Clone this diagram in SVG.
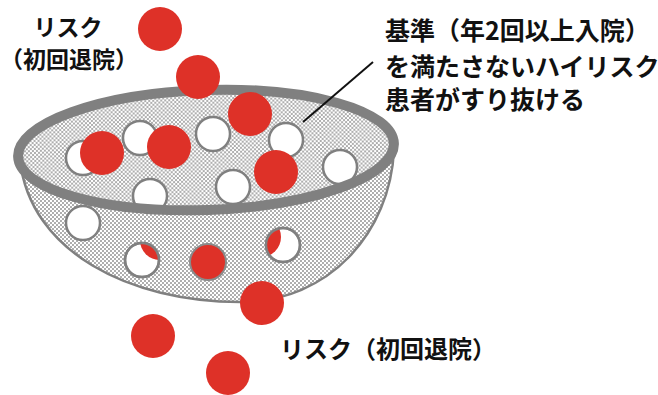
<svg xmlns="http://www.w3.org/2000/svg" width="658" height="395" viewBox="0 0 658 395">
  <defs>
    <pattern id="mesh" width="4" height="4" patternUnits="userSpaceOnUse">
      <rect width="4" height="4" fill="#ffffff"/>
      <circle cx="1" cy="1" r="0.95" fill="#8c8c8c"/>
      <circle cx="3" cy="3" r="0.95" fill="#8c8c8c"/>
    </pattern>
    <clipPath id="hole1"><circle cx="142" cy="260" r="17"/></clipPath>
    <clipPath id="hole2"><circle cx="283" cy="245" r="17"/></clipPath>
  </defs>
  <style>
    .red { fill: #de3128; }
    .white { fill: #ffffff; stroke: #808080; stroke-width: 2.5; }
    .ring { fill: none; stroke: #808080; stroke-width: 2.5; }
    .label { font-family: "Noto Sans CJK JP", "Noto Sans", sans-serif; font-weight: 700; font-size: 24px; fill: #111111; }
    .small { font-size: 23px; }
    .note { font-size: 25px; }
  </style>

  <!-- sieve body and bowl interior -->
  <g id="sieve">
    <path d="M 20 160 C 30 252, 130 302, 240 302 C 330 302, 390 232, 394 150 Z" fill="url(#mesh)" stroke="#808080" stroke-width="2.5"/>
    <ellipse cx="206" cy="150" rx="188" ry="60" transform="rotate(-2 206 150)" fill="url(#mesh)"/>
  </g>

  <!-- balls seen through the mesh below the rim -->
  <g id="holes">
    <circle class="white" cx="83" cy="223" r="17"/>
    <circle class="white" cx="142" cy="260" r="17"/>
    <circle class="red" cx="160" cy="240" r="20" clip-path="url(#hole1)"/>
    <circle class="ring" cx="142" cy="260" r="17"/>
    <circle class="white" cx="283" cy="245" r="17"/>
    <circle class="red" cx="261" cy="237" r="20" clip-path="url(#hole2)"/>
    <circle class="ring" cx="283" cy="245" r="17"/>
    <circle class="red" cx="208" cy="262" r="18" stroke="#8a8a8a" stroke-width="2"/>
  </g>

  <!-- white balls caught inside the bowl -->
  <g id="caught">
    <circle class="white" cx="83" cy="158" r="17"/>
    <circle class="white" cx="140" cy="138" r="17"/>
    <circle class="white" cx="213" cy="134" r="17"/>
    <circle class="white" cx="286" cy="140" r="17"/>
    <circle class="white" cx="340" cy="167" r="17"/>
    <circle class="white" cx="233" cy="187" r="17"/>
    <circle class="white" cx="150" cy="196" r="17"/>
  </g>

  <!-- rim -->
  <g id="rim">
    <ellipse cx="206" cy="150" rx="188" ry="60" transform="rotate(-2 206 150)" fill="none" stroke="#808080" stroke-width="10"/>
  </g>

  <!-- red balls passing through -->
  <g id="passing">
    <circle class="red" cx="160" cy="29" r="22"/>
    <circle class="red" cx="198" cy="77" r="22"/>
    <circle class="red" cx="250" cy="114" r="22"/>
    <circle class="red" cx="102" cy="153" r="22"/>
    <circle class="red" cx="169" cy="147" r="22"/>
    <circle class="red" cx="276" cy="172" r="22"/>
    <circle class="red" cx="262" cy="303" r="22"/>
    <circle class="red" cx="153" cy="336" r="22"/>
    <circle class="red" cx="228" cy="373" r="22"/>
  </g>

  <!-- leader line -->
  <g id="connectors">
    <line x1="303" y1="122" x2="373" y2="62" stroke="#111111" stroke-width="2"/>
  </g>

  <g id="label-top">
    <text class="label small" x="68" y="36" text-anchor="middle">リスク</text>
    <text class="label small" x="0" y="68">（初回退院）</text>
  </g>
  <g id="label-note">
    <text class="label note" x="385" y="40">基準（年2回以上入院）</text>
    <text class="label note" x="385" y="76">を満たさないハイリスク</text>
    <text class="label note" x="385" y="109">患者がすり抜ける</text>
  </g>
  <g id="label-bottom">
    <text class="label" x="280" y="358">リスク（初回退院）</text>
  </g>
</svg>
